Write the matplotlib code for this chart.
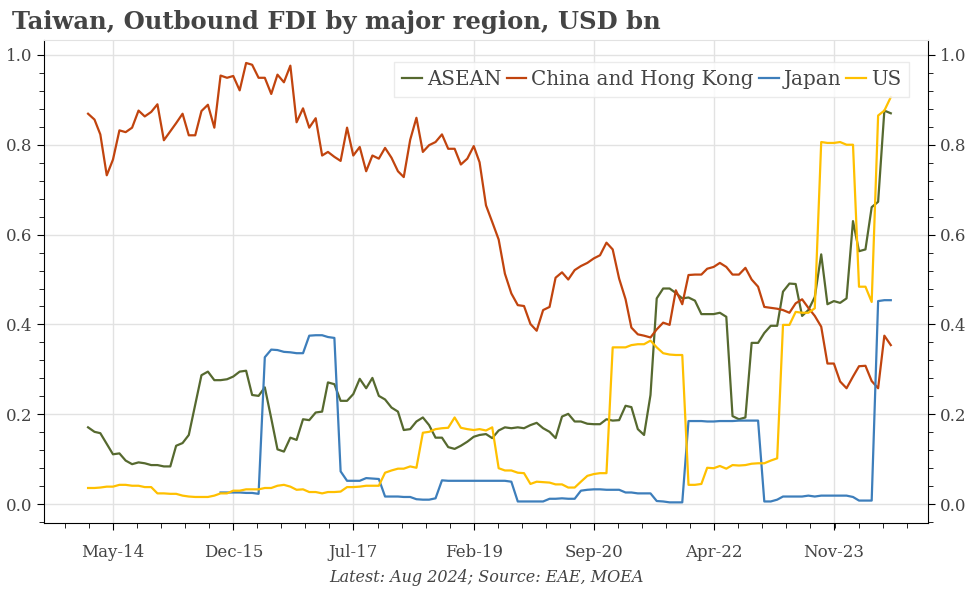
import numpy as np
import pandas as pd
import matplotlib
matplotlib.use("Agg")
import matplotlib.pyplot as plt
import matplotlib.dates as mdates
from matplotlib.ticker import AutoMinorLocator, MultipleLocator, FormatStrFormatter

# Monthly, Jan 2014 - Aug 2024, USD bn
dates = pd.date_range("2014-01-01", periods=128, freq="MS")

asean = [0.171, 0.161, 0.158, 0.134, 0.111, 0.113, 0.097, 0.089, 0.093, 0.091,
         0.087, 0.087, 0.084, 0.084, 0.130, 0.136, 0.154, 0.221, 0.287, 0.295,
         0.276, 0.276, 0.278, 0.284, 0.295, 0.297, 0.243, 0.241, 0.260, 0.191,
         0.122, 0.117, 0.148, 0.143, 0.189, 0.187, 0.204, 0.206, 0.271, 0.267,
         0.230, 0.230, 0.245, 0.279, 0.258, 0.281, 0.241, 0.233, 0.215, 0.206,
         0.165, 0.167, 0.184, 0.193, 0.176, 0.148, 0.148, 0.127, 0.123, 0.130,
         0.139, 0.150, 0.154, 0.156, 0.147, 0.164, 0.171, 0.169, 0.171, 0.169,
         0.176, 0.181, 0.169, 0.161, 0.147, 0.195, 0.201, 0.184, 0.184, 0.179,
         0.178, 0.178, 0.189, 0.186, 0.187, 0.219, 0.216, 0.167, 0.154, 0.243,
         0.458, 0.480, 0.480, 0.470, 0.458, 0.460, 0.453, 0.423, 0.423, 0.423,
         0.426, 0.417, 0.196, 0.189, 0.193, 0.359, 0.359, 0.381, 0.397, 0.397,
         0.473, 0.491, 0.490, 0.419, 0.432, 0.461, 0.556, 0.445, 0.452, 0.448,
         0.458, 0.630, 0.563, 0.567, 0.661, 0.673, 0.876, 0.870]

china_hk = [0.869, 0.856, 0.823, 0.732, 0.767, 0.832, 0.828, 0.838, 0.876, 0.863,
            0.873, 0.890, 0.810, 0.830, 0.848, 0.869, 0.821, 0.821, 0.875, 0.889,
            0.838, 0.954, 0.949, 0.953, 0.921, 0.982, 0.978, 0.949, 0.949, 0.913,
            0.956, 0.939, 0.976, 0.850, 0.881, 0.838, 0.859, 0.776, 0.784, 0.773,
            0.764, 0.838, 0.776, 0.795, 0.741, 0.776, 0.769, 0.793, 0.771, 0.741,
            0.728, 0.811, 0.860, 0.784, 0.799, 0.806, 0.823, 0.791, 0.791, 0.756,
            0.769, 0.797, 0.761, 0.665, 0.628, 0.589, 0.513, 0.469, 0.443, 0.441,
            0.401, 0.386, 0.432, 0.439, 0.504, 0.516, 0.500, 0.521, 0.530, 0.537,
            0.547, 0.554, 0.582, 0.567, 0.502, 0.456, 0.393, 0.378, 0.375, 0.371,
            0.389, 0.404, 0.399, 0.476, 0.445, 0.510, 0.511, 0.511, 0.524, 0.528,
            0.537, 0.528, 0.511, 0.511, 0.526, 0.500, 0.484, 0.439, 0.437, 0.435,
            0.432, 0.426, 0.447, 0.456, 0.437, 0.419, 0.395, 0.313, 0.313, 0.273,
            0.258, 0.284, 0.307, 0.308, 0.274, 0.258, 0.375, 0.354]

japan = [np.nan] * 21 + [
         0.026, 0.026, 0.026, 0.026, 0.025, 0.025, 0.023, 0.327, 0.344,
         0.343, 0.339, 0.338, 0.336, 0.336, 0.375, 0.376, 0.376, 0.372, 0.370,
         0.073, 0.052, 0.052, 0.052, 0.058, 0.057, 0.056, 0.017, 0.017, 0.017,
         0.016, 0.016, 0.011, 0.010, 0.010, 0.013, 0.053, 0.052, 0.052, 0.052,
         0.052, 0.052, 0.052, 0.052, 0.052, 0.052, 0.052, 0.050, 0.006, 0.006,
         0.006, 0.006, 0.006, 0.012, 0.012, 0.013, 0.012, 0.012, 0.030, 0.032,
         0.033, 0.033, 0.032, 0.032, 0.032, 0.026, 0.026, 0.024, 0.024, 0.024,
         0.007, 0.006, 0.004, 0.004, 0.004, 0.185, 0.185, 0.185, 0.184, 0.184,
         0.185, 0.185, 0.185, 0.186, 0.186, 0.186, 0.186, 0.006, 0.006, 0.010,
         0.017, 0.017, 0.017, 0.017, 0.019, 0.017, 0.019, 0.019, 0.019, 0.019,
         0.019, 0.016, 0.008, 0.008, 0.008, 0.452, 0.454, 0.454]

us = [0.036, 0.036, 0.037, 0.039, 0.039, 0.043, 0.043, 0.041, 0.041, 0.038,
      0.038, 0.024, 0.024, 0.023, 0.023, 0.019, 0.017, 0.016, 0.016, 0.016,
      0.019, 0.024, 0.024, 0.030, 0.030, 0.033, 0.033, 0.033, 0.036, 0.036,
      0.041, 0.043, 0.039, 0.032, 0.033, 0.027, 0.027, 0.024, 0.027, 0.027,
      0.028, 0.038, 0.038, 0.039, 0.041, 0.041, 0.041, 0.070, 0.075, 0.079,
      0.079, 0.084, 0.081, 0.159, 0.161, 0.167, 0.169, 0.170, 0.193, 0.170,
      0.167, 0.165, 0.167, 0.164, 0.171, 0.080, 0.075, 0.075, 0.070, 0.069,
      0.045, 0.050, 0.049, 0.048, 0.044, 0.044, 0.037, 0.037, 0.050, 0.063,
      0.067, 0.069, 0.069, 0.349, 0.349, 0.349, 0.354, 0.356, 0.356, 0.364,
      0.349, 0.336, 0.333, 0.332, 0.332, 0.043, 0.043, 0.045, 0.081, 0.080,
      0.085, 0.079, 0.087, 0.086, 0.087, 0.090, 0.091, 0.091, 0.097, 0.102,
      0.399, 0.399, 0.428, 0.426, 0.426, 0.436, 0.806, 0.804, 0.804, 0.806,
      0.800, 0.800, 0.484, 0.484, 0.450, 0.865, 0.876, 0.906]

series = [("ASEAN", asean, "#56692f"),
          ("China and Hong Kong", china_hk, "#c1440e"),
          ("Japan", japan, "#3d7ebb"),
          ("US", us, "#ffc000")]

tick_dates = pd.date_range("2014-05-01", periods=7, freq="19MS")

txt = "#444444"
plt.rcParams["font.family"] = ["DejaVu Serif"]

fig = plt.figure(figsize=(9.72, 5.89), dpi=100)
ax = fig.add_axes([0.0453, 0.112, 0.9094, 0.820])

for name, vals, col in series:
    ax.plot(dates, vals, color=col, lw=1.6, label=name)

ax.set_xlim(pd.Timestamp("2013-06-03"), pd.Timestamp("2025-01-27"))
ax.set_ylim(-0.042, 1.033)

ax.set_xticks(tick_dates)
ax.xaxis.set_major_formatter(mdates.DateFormatter("%b-%y"))
ax.xaxis.set_minor_locator(AutoMinorLocator(5))
ax.yaxis.set_major_locator(MultipleLocator(0.2))
ax.yaxis.set_minor_locator(AutoMinorLocator(5))
ax.yaxis.set_major_formatter(FormatStrFormatter("%.1f"))

ax.tick_params(axis="both", which="both", direction="out", colors="black",
               labelcolor=txt, labelsize=12)
ax.tick_params(axis="y", which="both", left=True, right=True, labelright=True)
ax.tick_params(which="major", length=5)
ax.tick_params(which="minor", length=3.5)
ax.tick_params(axis="x", pad=10)

ax.grid(True, which="major", color="#e2e2e2", lw=1)
ax.set_axisbelow(True)
ax.spines["top"].set_color("#e2e2e2")
for s in ["left", "right", "bottom"]:
    ax.spines[s].set_color("black")

leg = ax.legend(loc="upper right", ncol=4, fontsize=14.3, frameon=True,
                fancybox=False, handlelength=1.0, handletextpad=0.25,
                columnspacing=0.25, borderpad=0.4, bbox_to_anchor=(0.99, 0.975))
leg.get_frame().set_edgecolor("#e6e6e6")
leg.get_frame().set_linewidth(1)
for t in leg.get_texts():
    t.set_color(txt)

fig.text(0.012, 0.963, "Taiwan, Outbound FDI by major region, USD bn",
         fontsize=17.5, fontweight="bold", color=txt, va="center", ha="left")
fig.text(0.5, 0.02, "Latest: Aug 2024; Source: EAE, MOEA", fontsize=11.5,
         style="italic", color=txt, ha="center", va="center")

fig.savefig("out.png", dpi=100)
